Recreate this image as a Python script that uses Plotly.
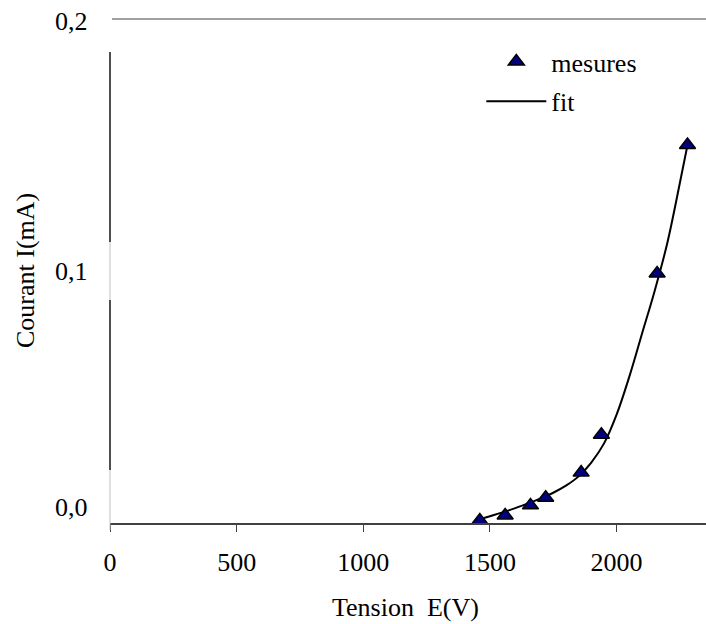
import plotly.graph_objects as go

# Measured points: applied voltage (V) and current (mA)
tension = [1460, 1560, 1660, 1720, 1860, 1940, 2160, 2280]
courant = [0.001, 0.003, 0.007, 0.010, 0.020, 0.035, 0.099, 0.150]

# Fitted curve sampled along the voltage axis
fit_e = [1460, 1500, 1550, 1600, 1650, 1700, 1750, 1800, 1850, 1900,
         1950, 2000, 2050, 2100, 2150, 2200, 2250, 2280]
fit_i = [0.0015, 0.0027, 0.0042, 0.0059, 0.0078, 0.0098, 0.0120, 0.0148,
         0.0185, 0.0240, 0.0315, 0.0430, 0.0580, 0.0750, 0.0920, 0.1110,
         0.1350, 0.150]

x_ticks = [0, 500, 1000, 1500, 2000]
y_tick_vals = [0.0, 0.1, 0.2]
y_tick_text = ["0,0", "0,1", "0,2"]
y_tick_shift = [16, 0, -2]

FONT = "Liberation Serif, Times New Roman, serif"
FS = 26

fig = go.Figure()

fig.add_trace(go.Scatter(
    x=fit_e, y=fit_i, mode="lines", name="fit", legendgroup="fit",
    legendrank=2,
    line=dict(color="black", width=2, shape="spline", smoothing=1.0),
))
fig.add_trace(go.Scatter(
    x=tension, y=courant, mode="markers", name="mesures", legendgroup="mes",
    legendrank=1,
    marker=dict(symbol="triangle-up", size=14, color="#000080",
                line=dict(color="black", width=1.5)),
))

# y tick labels
annotations = []
for v, t, s in zip(y_tick_vals, y_tick_text, y_tick_shift):
    annotations.append(dict(
        x=0, xref="paper", y=v, yref="y", text=t, showarrow=False,
        xanchor="right", yanchor="middle", xshift=-20, yshift=s,
        font=dict(family=FONT, size=FS, color="black"),
    ))

# axis titles
annotations.append(dict(
    x=0, xref="paper", y=0.5, yref="paper", text="Courant I(mA)",
    showarrow=False, textangle=-90, xanchor="center", yanchor="middle",
    xshift=-85, font=dict(family=FONT, size=FS, color="black"),
))
annotations.append(dict(
    x=0.495, xref="paper", y=0, yref="paper", text="Tension\u00a0 E(V)",
    showarrow=False, xanchor="center", yanchor="middle", yshift=-84,
    font=dict(family=FONT, size=FS, color="black"),
))

shapes = [
    # top border line at 0,2
    dict(type="line", xref="paper", yref="paper", x0=0.0034, x1=1, y0=1, y1=1,
         line=dict(color="#808080", width=1.3)),
    # vertical axis line (light) with darker segments
    dict(type="line", xref="paper", yref="paper", x0=0, x1=0, y0=-0.014, y1=0.9345,
         line=dict(color="#c0c0c0", width=1)),
    dict(type="line", xref="paper", yref="paper", x0=0, x1=0, y0=0.5575, y1=0.9345,
         line=dict(color="black", width=1.3)),
    dict(type="line", xref="paper", yref="paper", x0=0, x1=0, y0=0.105, y1=0.4425,
         line=dict(color="black", width=1.3)),
]

fig.update_layout(
    width=706, height=624,
    margin=dict(l=110, r=0, t=19, b=101),
    paper_bgcolor="white", plot_bgcolor="white",
    font=dict(family=FONT, size=FS, color="black"),
    showlegend=True,
    legend=dict(
        x=0.623, y=0.962, xanchor="left", yanchor="top",
        bgcolor="rgba(0,0,0,0)", font=dict(family=FONT, size=FS, color="black"),
        traceorder="grouped", itemwidth=60, tracegroupgap=3,
    ),
    xaxis=dict(
        range=[0, 2353], tickvals=x_ticks, ticktext=[str(v) for v in x_ticks],
        ticks="outside", ticklen=7, tickwidth=1.3, tickcolor="#404040",
        showline=True, linecolor="#404040", linewidth=2,
        showgrid=False, zeroline=False, ticklabelstandoff=8,
        tickfont=dict(family=FONT, size=FS, color="black"),
    ),
    yaxis=dict(
        range=[0, 0.2], showticklabels=False, ticks="", showline=False,
        showgrid=False, zeroline=False,
    ),
    annotations=annotations,
    shapes=shapes,
)

fig.write_html("out.html")
